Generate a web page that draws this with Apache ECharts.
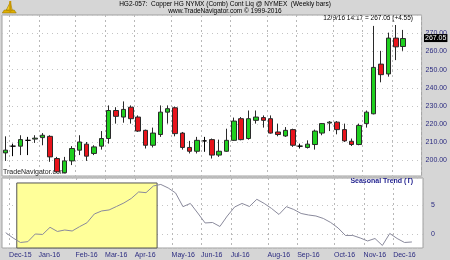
<!DOCTYPE html>
<html><head><meta charset="utf-8">
<script src="https://cdn.jsdelivr.net/npm/echarts@6/dist/echarts.min.js"></script>
<style>html,body{margin:0;padding:0;background:#d6d6d6}#c{width:450px;height:260px}</style>
</head><body><div id="c"></div>
<script>
// Weekly bar dates (Friday), incl. two empty weeks at the right edge
const weeks = ['2015-11-27','2015-12-04','2015-12-11','2015-12-18','2015-12-25',
 '2016-01-01','2016-01-08','2016-01-15','2016-01-22','2016-01-29',
 '2016-02-05','2016-02-12','2016-02-19','2016-02-26',
 '2016-03-04','2016-03-11','2016-03-18','2016-03-25',
 '2016-04-01','2016-04-08','2016-04-15','2016-04-22','2016-04-29',
 '2016-05-06','2016-05-13','2016-05-20','2016-05-27',
 '2016-06-03','2016-06-10','2016-06-17','2016-06-24',
 '2016-07-01','2016-07-08','2016-07-15','2016-07-22','2016-07-29',
 '2016-08-05','2016-08-12','2016-08-19','2016-08-26',
 '2016-09-02','2016-09-09','2016-09-16','2016-09-23','2016-09-30',
 '2016-10-07','2016-10-14','2016-10-21','2016-10-28',
 '2016-11-04','2016-11-11','2016-11-18','2016-11-25',
 '2016-12-02','2016-12-09','2016-12-16','2016-12-23'];
const openP  = [204.2,207.9,207.9,211.1,211.8,212.6,213.3,201.1,193.3,199.8,205.7,209.0,203.9,207.9,212.1,227.5,223.9,229.3,223.9,216.6,
 208.4,214.3,226.6,229.0,215.1,207.2,205.1,210.8,211.5,203.0,205.1,211.1,223.0,212.1,222.1,223.6,223.0,215.7,213.5,217.0,
 207.9,207.2,208.8,215.1,220.6,221.1,217.0,210.6,208.8,220.3,225.7,253.0,247.6,267.3,262.7];
const closeP = [205.7,207.9,211.5,211.1,212.3,213.9,202.0,193.8,199.8,206.6,210.2,202.4,207.5,212.1,227.5,224.3,228.1,223.0,216.2,208.4,
 215.1,226.6,228.5,214.8,207.2,205.1,211.1,210.8,203.0,205.1,211.1,221.7,211.5,223.0,223.9,222.1,215.1,214.3,216.6,208.4,
 207.9,209.0,216.2,220.3,221.1,217.0,210.8,208.8,219.3,226.6,251.2,247.2,267.3,262.5,267.05];
const lowP   = [199.8,202.4,203.0,203.0,209.7,208.4,199.3,193.3,193.0,197.5,203.0,199.8,203.0,206.0,209.3,220.3,220.8,220.3,215.7,206.6,
 207.2,213.0,220.3,213.3,206.0,203.9,203.9,204.8,201.1,202.0,204.8,210.8,211.1,211.5,220.3,218.1,214.8,213.3,213.0,207.5,
 206.6,206.6,206.0,213.9,216.2,214.4,210.2,208.0,208.4,218.1,225.4,243.0,246.1,255.2,260.3];
const highP  = [213.3,209.3,213.9,213.0,213.9,215.1,213.9,202.0,202.0,207.9,213.9,210.2,208.4,216.2,230.3,229.3,232.5,230.3,224.8,217.0,
 218.1,230.3,230.3,229.7,215.7,210.8,213.0,213.0,212.1,211.5,217.5,223.6,223.9,227.5,227.5,224.8,224.8,220.3,218.4,217.5,
 209.3,211.1,217.0,220.6,221.7,221.7,220.3,212.1,220.3,227.5,274.0,260.3,270.3,274.5,271.8];
const seasonal = [0.27,-0.63,-1.40,-1.26,0.05,-0.03,1.19,0.48,0.73,0.56,1.30,1.96,3.46,3.98,4.15,4.74,5.34,6.11,7.22,7.10,
 8.24,8.50,7.90,7.05,4.71,5.26,3.63,1.93,2.01,1.33,3.12,4.66,5.26,4.74,5.97,5.26,4.40,3.38,4.71,4.23,
 3.55,3.29,3.12,2.70,2.01,1.08,-0.20,-0.20,-0.63,-1.14,-0.72,-1.91,0.14,-0.72,-1.40,-1.31];
const priceLabels = [200,210,220,230,240,250,260,270];
const seasonalLabels = [0,5];
const highlight = {from:'2015-12-11', to:'2016-04-15', top:8.75};
const lastPrice = 267.05, priceChange = 4.55, stamp = '12/9/16 14:17';
const titleText = 'HG2-057:  Copper HG NYMX (Comb) Cont Liq @ NYMEX  (Weekly bars)';
const subText = 'www.TradeNavigator.com \u00a9 1999-2016';
const monthNames = ['Jan','Feb','Mar','Apr','May','Jun','Jul','Aug','Sep','Oct','Nov','Dec'];

const candles = openP.map((o,i)=>[o, closeP[i], lowP[i], highP[i]]);
const isMonthStart = (i)=> i>0 && weeks[i].slice(5,7)!==weeks[i-1].slice(5,7);
const monthLabel = (v)=> monthNames[+v.slice(5,7)-1]+'-'+v.slice(2,4);
const FONT = 'Liberation Sans';
const AXC = '#2b2b80';

const chart = echarts.init(document.getElementById('c'), null, {renderer:'canvas'});
const gridCommon = {left:2, right:27, show:true, backgroundColor:'#fff', borderColor:'#a0a0a0', borderWidth:1};
const baseGraphic = [
  {type:'text', left:'center', top:1, style:{text:titleText, font:'6.5px '+FONT, fill:'#000'}},
  {type:'text', left:'center', top:8, style:{text:subText, font:'6.5px '+FONT, fill:'#000'}},
  {type:'text', right:37, top:15, style:{text:stamp+' = '+lastPrice.toFixed(2)+' (+'+priceChange.toFixed(2)+')', font:'6.5px '+FONT, fill:'#000'}},
  {type:'text', left:3, top:169, style:{text:'TradeNavigator.com', font:'7px '+FONT, fill:'#222'}},
  {type:'text', right:37, top:178, style:{text:'Seasonal Trend (T)', font:'bold 7px '+FONT, fill:'#1c1c8c'}},
  {type:'group', left:2, top:1, children:[
    {type:'polygon', shape:{points:[[0,12],[14,12],[12,9],[2,9]]}, style:{fill:'#e0b000', stroke:'#8a6a00', lineWidth:0.5}},
    {type:'polygon', shape:{points:[[4,9],[8,1],[10,9]]}, style:{fill:'#f2cc20', stroke:'#8a6a00', lineWidth:0.5}},
    {type:'rect', shape:{x:7,y:0,width:2,height:12}, style:{fill:'#c89600'}}
  ]}
];
chart.setOption({
  animation:false,
  backgroundColor:'#d6d6d6',
  textStyle:{fontFamily:FONT},
  grid:[Object.assign({top:15, height:161}, gridCommon), Object.assign({top:178, height:70}, gridCommon)],
  xAxis:[
    {type:'category', gridIndex:0, data:weeks, boundaryGap:true,
     axisLine:{show:false}, axisTick:{show:false}, axisLabel:{show:false},
     splitLine:{show:true, interval:(i)=>isMonthStart(i), lineStyle:{color:'#b8b8b8', type:[2,3], width:1}}},
    {type:'category', gridIndex:1, data:weeks, boundaryGap:true,
     axisLine:{show:false}, axisTick:{show:false},
     axisLabel:{interval:(i)=>isMonthStart(i), formatter:monthLabel, align:'left', padding:[0,0,0,-4],
       color:AXC, fontSize:7, fontFamily:FONT, margin:4},
     splitLine:{show:true, interval:(i)=>isMonthStart(i), lineStyle:{color:'#b8b8b8', type:[2,3], width:1}}}
  ],
  yAxis:[
    {type:'value', gridIndex:0, position:'right', min:191.5, max:280, splitNumber:9, scale:true,
     axisLine:{show:false}, axisTick:{show:false},
     axisLabel:{color:AXC, fontSize:7, margin:4, fontFamily:FONT,
       formatter:(v)=> priceLabels.includes(Math.round(v*100)/100) ? v.toFixed(2) : ''},
     splitLine:{lineStyle:{color:'#c4c4c4', type:[1,4]}}},
    {type:'value', gridIndex:1, position:'right', min:-2.34, max:9.6, splitNumber:2,
     axisLine:{show:false}, axisTick:{show:false},
     axisLabel:{color:AXC, fontSize:7, margin:8, fontFamily:FONT,
       formatter:(v)=> seasonalLabels.includes(Math.round(v*100)/100) ? String(v) : ''},
     splitLine:{lineStyle:{color:'#c4c4c4', type:[1,4]}}}
  ],
  series:[
    {type:'candlestick', xAxisIndex:0, yAxisIndex:0, data:candles, barWidth:5,
     itemStyle:{color:'#1fcf1f', color0:'#e8141c', borderColor:'#2a2a2a', borderColor0:'#2a2a2a', borderColorDoji:'#000', borderWidth:1}},
    {type:'custom', xAxisIndex:1, yAxisIndex:1, z:1,
     data:[[weeks.indexOf(highlight.from), weeks.indexOf(highlight.to), highlight.top]],
     encode:{x:[0,1], y:2},
     renderItem:(params, api)=>{
       const s = api.coord([api.value(0), api.value(2)]);
       const e = api.coord([api.value(1), api.value(2)]);
       const bw = api.size([1,0])[0];
       const cs = params.coordSys;
       const x0 = s[0]-bw/2, x1 = e[0]+bw/2, y1 = cs.y+cs.height;
       return {type:'rect', shape:{x:x0, y:s[1], width:x1-x0, height:y1-s[1]},
         style:{fill:'#ffff99', stroke:'#555', lineWidth:1}};
     }},
    {type:'line', xAxisIndex:1, yAxisIndex:1, data:seasonal, showSymbol:false, z:3,
     lineStyle:{color:'#8a8a9c', width:1}}
  ],
  graphic:baseGraphic
});
// last-price marker on the price axis, positioned through the axis scale
const yPix = chart.convertToPixel({yAxisIndex:0}, lastPrice);
chart.setOption({graphic: baseGraphic.concat([
  {type:'text', left:424, top:yPix-4.5, z:100,
   style:{text:lastPrice.toFixed(2), font:'7px '+FONT, fill:'#fff', backgroundColor:'#000', padding:[1,1,0,1]}}
])});
</script></body></html>
